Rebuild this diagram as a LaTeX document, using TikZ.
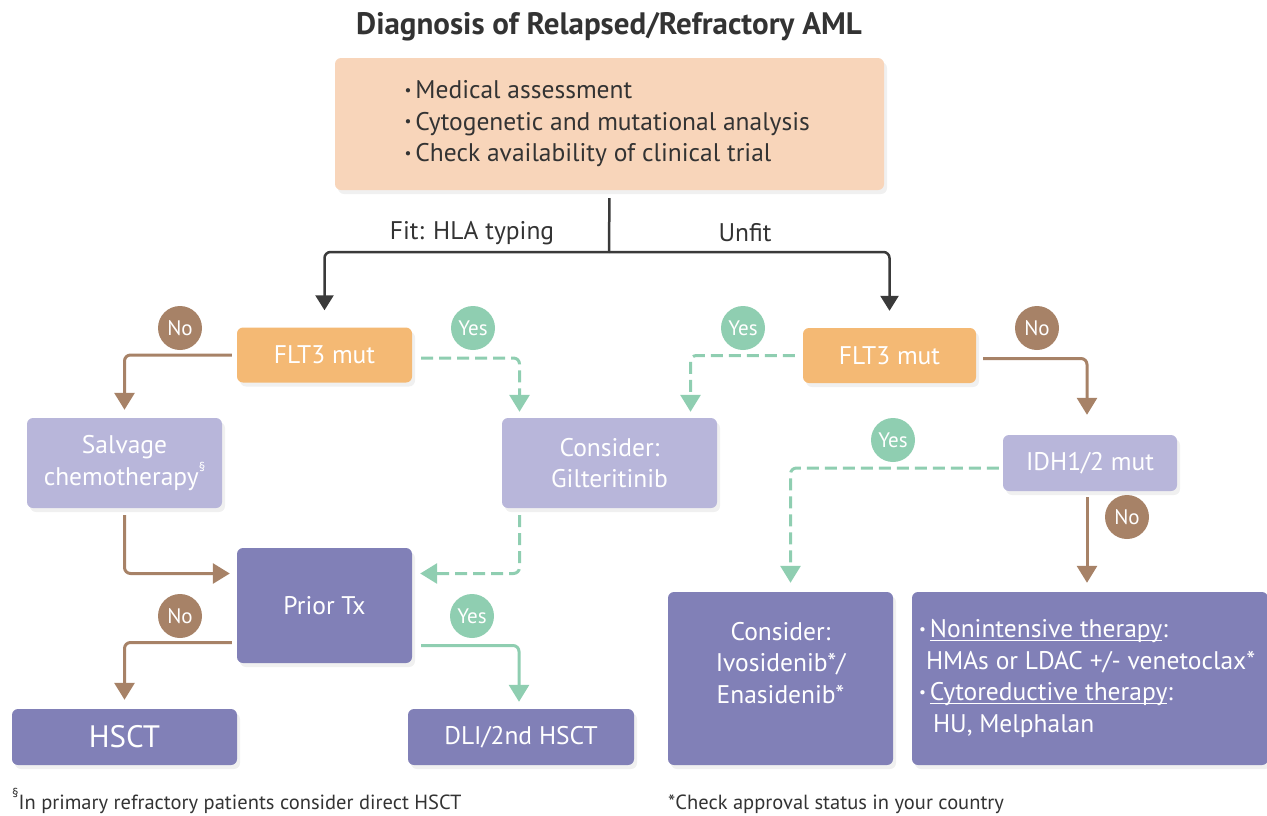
\documentclass[tikz,border=0pt]{standalone}
\usepackage{fontspec}
\usepackage{graphicx}
\setmainfont{PT Sans}
\usetikzlibrary{arrows.meta,shapes.geometric,shadows}
\definecolor{peach}{HTML}{F8D5BA}
\definecolor{orangebox}{HTML}{F4B974}
\definecolor{lav}{HTML}{B8B6DA}
\definecolor{purp}{HTML}{8180B7}
\definecolor{brownc}{HTML}{A78267}
\definecolor{tealc}{HTML}{8FCEB1}
\definecolor{darkc}{HTML}{3A3A3A}
\definecolor{txtc}{HTML}{333333}
\newcommand\bul{\raisebox{0.14em}{\scalebox{0.6}{•}}\hspace{4pt}}
\newcommand\sect{\raisebox{0.55em}{\fontsize{13}{13}\selectfont §}}
\newcommand\bodyfont{\fontsize{25.5}{31.5}\selectfont}
\newcommand\myul[1]{\setbox0\hbox{#1}\rlap{\rule[-3.5pt]{\wd0}{1.3pt}}\box0}
\tikzset{
  box/.style={rectangle, rounded corners=6pt, text=white, align=center, inner sep=0pt,
    font=\bodyfont,
    drop shadow={opacity=0.12, shadow xshift=3pt, shadow yshift=-4pt}},
  orangeb/.style={box, fill=orangebox},
  lavb/.style={box, fill=lav},
  purpb/.style={box, fill=purp},
  circ/.style={ellipse, minimum width=44pt, minimum height=44pt, inner sep=0pt, text=white,
    font=\fontsize{21}{21}\selectfont},
  nocirc/.style={circ, fill=brownc},
  yescirc/.style={circ, fill=tealc},
  lab/.style={text=txtc, font=\fontsize{25.5}{30}\selectfont, inner sep=0pt},
  foot/.style={text=txtc, font=\fontsize{20.5}{24}\selectfont, inner sep=0pt, anchor=base west},
  dkline/.style={draw=darkc, line width=2.5pt},
  dkarrow/.style={dkline, rounded corners=6pt, -{Triangle[width=18pt,length=15pt]}},
  noline/.style={draw=brownc, line width=3pt, rounded corners=6pt, -{Triangle[width=20pt,length=17pt]}},
  yesline/.style={draw=tealc, line width=3pt, rounded corners=6pt, -{Triangle[width=20pt,length=17pt]}},
  yesdash/.style={yesline, dash pattern=on 12pt off 6pt},
}
\begin{document}
\begin{tikzpicture}[x=1pt,y=-1pt]
\useasboundingbox (0,0) rectangle (1267,815);
\node[text=txtc, font=\fontsize{31}{34}\selectfont\bfseries, inner sep=0pt] (title) at (609,27) {Diagnosis of Relapsed/Refractory AML};
\node[box, fill=peach, text=txtc, minimum width=549pt, minimum height=132pt] (top) at (609.5,124)
  {\begin{minipage}{410pt}\raggedright\bodyfont
   \bul Medical assessment\\ \bul Cytogenetic and mutational analysis\\ \bul Check availability of clinical trial\end{minipage}};

\node[lab] (fit) at (472,233) {Fit: HLA typing};
\node[lab] (unfit) at (745,233) {Unfit};

\node[orangeb, minimum width=175pt, minimum height=55pt] (flt3L) at (324.5,355) {FLT3 mut};
\node[orangeb, minimum width=173pt, minimum height=55pt] (flt3R) at (889.5,355.5) {FLT3 mut};
\node[lavb, minimum width=195pt, minimum height=90pt] (salv) at (124.5,463) {Salvage\\chemotherapy\sect};
\node[lavb, minimum width=215pt, minimum height=90pt] (gil) at (609.5,463) {Consider:\\Gilteritinib};
\node[lavb, minimum width=174pt, minimum height=56pt] (idh) at (1090,463) {IDH1/2 mut};
\node[purpb, minimum width=175pt, minimum height=115pt] (prior) at (324.5,605.5) {Prior Tx};
\node[purpb, minimum width=225pt, minimum height=56pt, font=\fontsize{31}{34}\selectfont] (hsct) at (124.5,737) {HSCT};
\node[purpb, minimum width=226pt, minimum height=56pt] (dli) at (521,737) {DLI/2nd HSCT};
\node[purpb, minimum width=225pt, minimum height=173pt] (ivo) at (780.5,678.5) {Consider:\\Ivosidenib*/\\Enasidenib*\\[0pt]~};
\node[purpb, minimum width=356pt, minimum height=173pt] (final) at (1090,678.5)
  {\begin{minipage}{342pt}\raggedright\bodyfont
   \bul\myul{Nonintensive therapy}:\\
   \hspace*{7pt}HMAs or LDAC +/- venetoclax*\\
   \bul\myul{Cytoreductive therapy}:\\
   \hspace*{14pt}HU, Melphalan\end{minipage}};

\node[nocirc] (c1) at (180,328) {No};
\node[yescirc] (c2) at (473,328) {Yes};
\node[yescirc] (c3) at (743,328) {Yes};
\node[nocirc] (c4) at (1037,328) {No};
\node[yescirc] (c5) at (893,440) {Yes};
\node[nocirc] (c6) at (1127,517) {No};
\node[nocirc] (c7) at (180,616) {No};
\node[yescirc] (c8) at (472,616) {Yes};

\node[foot] (f1) at (12,809) {\sect In primary refractory patients consider direct HSCT};
\node[foot] (f2) at (668,809) {*Check approval status in your country};

\coordinate (split) at (609,252);
\draw[dkline, shorten <=8pt] (top.south) -- (split);
\draw[dkarrow, shorten >=17pt] (split) -| (flt3L.north);
\draw[dkarrow, shorten >=17pt] (split) -| (flt3R.north);

\draw[noline, shorten <=5pt, shorten >=8pt] (flt3L.west) -| (salv.north);
\draw[yesdash, shorten <=9pt, shorten >=6pt] ([yshift=-3pt]flt3L.east) -| ([xshift=-90pt]gil.north);
\draw[noline, shorten <=7pt, shorten >=7pt] (salv.south) |- ([yshift=32pt]prior.west);
\draw[yesdash, shorten <=7pt, shorten >=8pt] ([xshift=-90pt]gil.south) |- ([yshift=32pt]prior.east);
\draw[noline, shorten <=5pt, shorten >=9pt] ([yshift=-37pt]prior.west) -| (hsct.north);
\draw[yesline, shorten <=9pt, shorten >=7pt] ([yshift=-40pt]prior.east) -| ([xshift=-2pt]dli.north);
\draw[yesdash, shorten <=8pt, shorten >=6pt] (flt3R.west) -| ([xshift=81pt]gil.north);
\draw[noline, shorten <=7pt, shorten >=20pt] ([yshift=-3pt]flt3R.east) -| ([xshift=-3pt]idh.north);
\draw[yesdash, shorten <=4pt, shorten >=9pt] ([yshift=-5pt]idh.west) -| ([xshift=10pt]ivo.north);
\draw[noline, shorten <=6pt, shorten >=9pt] ([xshift=-3pt]idh.south) -- ([xshift=-3pt]idh.south |- final.north);
\end{tikzpicture}
\end{document}
